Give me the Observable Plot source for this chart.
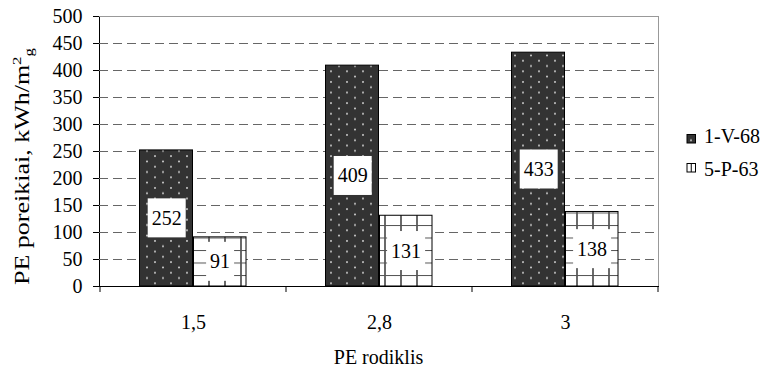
<!DOCTYPE html>
<html><head><meta charset="utf-8">
<script src="https://cdn.jsdelivr.net/npm/d3@7"></script>
<script src="https://cdn.jsdelivr.net/npm/@observablehq/plot@0.6"></script>
<style>body{margin:0;background:#fff} #chart{width:771px;height:367px} #chart svg, #chart svg text{font-family:'Liberation Serif','Times New Roman',serif !important}</style>
</head><body><div id="chart"></div>
<script>
const categories = ["1,5", "2,8", "3"];
const seriesNames = ["1-V-68", "5-P-63"];
const values1 = [252, 409, 433];
const values2 = [91, 131, 138];
const yTicks = [0, 50, 100, 150, 200, 250, 300, 350, 400, 450, 500];
const xTitle = "PE rodiklis";
const yTitleMain = "PE poreikiai, kWh/m";
const yTitleSup = "2";
const yTitleSub = "g";

const rows1 = categories.map((c, i) => ({cat: c, series: seriesNames[0], value: values1[i]}));
const rows2 = categories.map((c, i) => ({cat: c, series: seriesNames[1], value: values2[i]}));

const W = 771, H = 367, mL = 99, mR = 113, mT = 16, mB = 81;
const font = "'Liberation Serif', 'Times New Roman', serif";

const plot = Plot.plot({
  width: W, height: H,
  marginLeft: mL, marginRight: mR, marginTop: mT, marginBottom: mB,
  style: `font-family: ${font}; font-size: 20px; color: #000; background: #fff;`,
  x: {domain: categories, padding: 0, label: null, tickSize: 0, tickPadding: 28, line: true},
  y: {domain: [0, 500], ticks: yTicks, label: null, tickSize: 6, tickPadding: 11, line: true},
  marks: [
    Plot.ruleY(yTicks.filter(v => v > 0 && v < 500), {stroke: "#666", strokeWidth: 1, strokeDasharray: "9,5"}),
    Plot.ruleY([500], {stroke: "#999", strokeWidth: 1}),
    Plot.barY(rows1, {x: "cat", y: "value", fill: "url(#dots)", stroke: "#000", strokeWidth: 1, insetLeft: 39.5, insetRight: 93.5}),
    Plot.barY(rows2, {x: "cat", y: "value", fill: "url(#gridpat)", stroke: "#000", strokeWidth: 1, insetLeft: 93.5, insetRight: 40}),
    Plot.text(rows1, {x: "cat", y: d => d.value / 2, text: d => String(d.value), dx: -26.8, fill: "#000"}),
    Plot.text(rows2, {x: "cat", y: d => d.value / 2, text: d => String(d.value), dx: 26.6, fill: "#000"})
  ]
});
document.getElementById("chart").appendChild(plot);

const svg = d3.select(plot).attr("font-family", font);
const defs = svg.insert("defs", ":first-child");
const pd = defs.append("pattern").attr("id", "dots").attr("patternUnits", "userSpaceOnUse").attr("width", 16).attr("height", 10.6);
pd.append("rect").attr("width", 16).attr("height", 10.6).attr("fill", "#333");
pd.append("circle").attr("cx", 3).attr("cy", 2.5).attr("r", 0.95).attr("fill", "#ddd");
pd.append("circle").attr("cx", 11).attr("cy", 7.8).attr("r", 0.95).attr("fill", "#ddd");
const pg = defs.append("pattern").attr("id", "gridpat").attr("patternUnits", "userSpaceOnUse").attr("width", 16).attr("height", 12.5);
pg.append("rect").attr("width", 16).attr("height", 12.5).attr("fill", "#fff");
pg.append("line").attr("x1", 1).attr("x2", 1).attr("y1", 0).attr("y2", 12.5).attr("stroke", "#444").attr("stroke-width", 1.6);
pg.append("line").attr("x1", 0).attr("x2", 16).attr("y1", 0.5).attr("y2", 0.5).attr("stroke", "#555").attr("stroke-width", 1);

// white boxes behind value labels
svg.selectAll("g[aria-label='text'] text").each(function() {
  const bb = this.getBBox();
  const padX = 4, h = 39;
  const cy = bb.y + bb.height / 2;
  d3.select(this.parentNode).insert("rect", () => this)
    .attr("x", bb.x - padX).attr("y", cy - h / 2)
    .attr("width", bb.width + 2 * padX).attr("height", h)
    .attr("fill", "#fff")
    .attr("transform", this.getAttribute("transform"));
});

const xs = plot.scale("x");
const y0 = H - mB;
const bounds = categories.map(c => xs.apply(c)).concat([xs.apply(categories[categories.length - 1]) + xs.bandwidth]);
const g = svg.append("g").attr("text-anchor", "start").attr("font-family", font).attr("font-size", 20);
// right border
g.append("line").attr("x1", W - mR + 0.5).attr("x2", W - mR + 0.5).attr("y1", mT).attr("y2", y0).attr("stroke", "#999");
// boundary ticks
bounds.forEach(b => g.append("line").attr("x1", b).attr("x2", b).attr("y1", y0).attr("y2", y0 + 6).attr("stroke", "#000"));

// axis titles
g.append("text").attr("x", mL + (W - mL - mR) / 2).attr("y", 364).attr("text-anchor", "middle").text(xTitle);
const yt = g.append("text").attr("transform", "translate(29,166.5) rotate(-90)").attr("text-anchor", "middle")
  .attr("textLength", 237).attr("lengthAdjust", "spacingAndGlyphs");
yt.append("tspan").text(yTitleMain);
yt.append("tspan").attr("font-size", 13).attr("dy", -8).text(yTitleSup);
yt.append("tspan").attr("font-size", 13).attr("dy", 12).text(yTitleSub);

// legend
const legend = g.append("g").attr("text-anchor", "start");
legend.append("rect").attr("x", 687).attr("y", 134.5).attr("width", 8.5).attr("height", 8.5).attr("fill", "url(#dots)").attr("stroke", "#000");
legend.append("text").attr("x", 704).attr("y", 143).text(seriesNames[0]);
legend.append("rect").attr("x", 687).attr("y", 163.5).attr("width", 8.5).attr("height", 8.5).attr("fill", "#fff").attr("stroke", "#000");
legend.append("line").attr("x1", 691.25).attr("x2", 691.25).attr("y1", 163.5).attr("y2", 172).attr("stroke", "#000");
legend.append("text").attr("x", 704).attr("y", 176).text(seriesNames[1]);
</script>
</body></html>
